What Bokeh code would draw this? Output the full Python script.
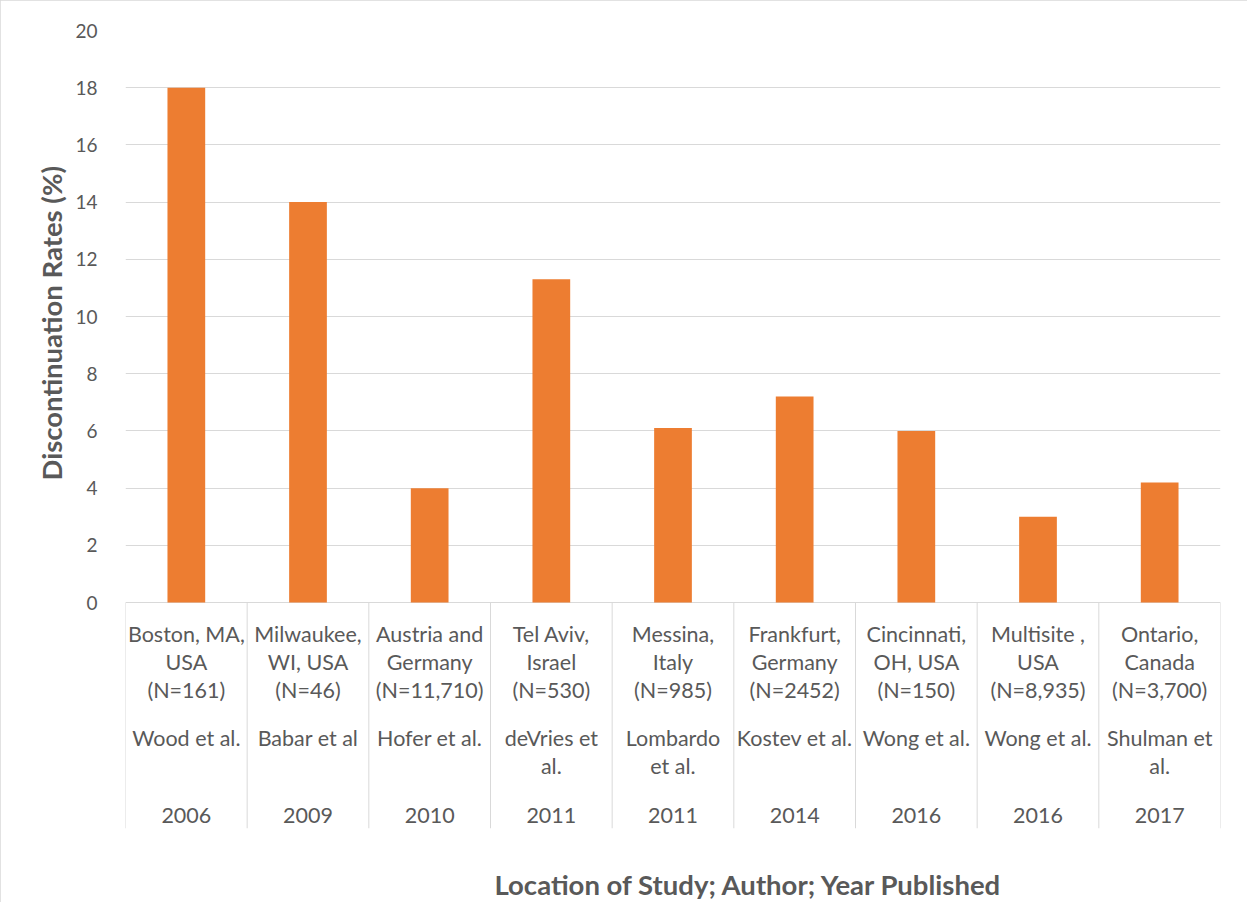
from bokeh.plotting import figure
from bokeh.models import FactorRange, Range1d, FixedTicker, Title, ColumnDataSource
from bokeh.core.properties import value
from bokeh.embed import file_html
from bokeh.resources import INLINE

# ---- data ----
locations = [
    "Boston, MA,\nUSA\n(N=161)",
    "Milwaukee,\nWI, USA\n(N=46)",
    "Austria and\nGermany\n(N=11,710)",
    "Tel Aviv,\nIsrael\n(N=530)",
    "Messina,\nItaly\n(N=985)",
    "Frankfurt,\nGermany\n(N=2452)",
    "Cincinnati,\nOH, USA\n(N=150)",
    "Multisite ,\nUSA\n(N=8,935)",
    "Ontario,\nCanada\n(N=3,700)",
]
authors = [
    "Wood et al.",
    "Babar et al",
    "Hofer et al.",
    "deVries et\nal.",
    "Lombardo\net al.",
    "Kostev et al.",
    "Wong et al.",
    "Wong et al.",
    "Shulman et\nal.",
]
years = ["2006", "2009", "2010", "2011", "2011", "2014", "2016", "2016", "2017"]
rates = [18, 14, 4, 11.3, 6.1, 7.2, 6.0, 3.0, 4.2]
y_ticks = [0, 2, 4, 6, 8, 10, 12, 14, 16, 18, 20]

y_title = "Discontinuation Rates (%)"
x_title = "Location of Study; Author; Year Published"

# ---- style ----
FONT = "Lato"
TXT = "#595959"
GRID = "#d9d9d9"
BAR = "#ED7D31"
TICK_SIZE = "19px"
CAT_SIZE = "21.5px"
TITLE_SIZE = "27.5px"

y_bottom = -7.9

p = figure(
    width=1247, height=902,
    x_range=FactorRange(*locations),
    y_range=Range1d(y_bottom, 20),
    x_axis_location=None,
    output_backend="svg", toolbar_location=None,
    min_border_left=125, min_border_right=27, min_border_top=30, min_border_bottom=74,
)
p.outline_line_color = None
p.background_fill_color = "white"
p.border_fill_color = "white"
p.styles = {"outline": "1px solid #d9d9d9", "outline-offset": "-1px"}

p.xgrid.visible = False
p.ygrid.ticker = FixedTicker(ticks=y_ticks)
p.ygrid.grid_line_color = GRID
p.ygrid.grid_line_width = 1

ax = p.yaxis[0]
ax.ticker = FixedTicker(ticks=y_ticks)
ax.axis_line_color = None
ax.major_tick_line_color = None
ax.minor_tick_line_color = None
ax.major_label_text_font = FONT
ax.major_label_text_font_size = TICK_SIZE
ax.major_label_text_color = TXT
ax.major_label_standoff = 22

src = ColumnDataSource(dict(loc=locations, auth=authors, year=years, rate=rates,
                            zero=[0] * len(rates)))

p.vbar(x="loc", top="rate", bottom=0, width=0.31, source=src,
       fill_color=BAR, line_color=None)

# category separators
bounds = list(range(len(locations) + 1))
p.segment(x0=bounds, x1=bounds, y0=[0] * len(bounds), y1=[y_bottom] * len(bounds),
          line_color=GRID, line_width=1)

common = dict(text_font=value(FONT), text_font_size=CAT_SIZE, text_color=TXT,
              text_align="center", text_baseline="top", text_line_height=1.09,
              source=src)
p.text(x="loc", y="zero", text="loc", y_offset=18, **common)
p.text(x="loc", y="zero", text="auth", y_offset=122, **common)
p.text(x="loc", y="zero", text="year", y_offset=205, **common)

# axis titles
p.add_layout(Title(text=y_title, align="left", offset=348, standoff=10,
                   text_font=FONT, text_font_size=TITLE_SIZE, text_font_style="bold",
                   text_color=TXT), "left")
# spacer panel between the category labels and the x title
p.add_layout(Title(text=" ", standoff=33, text_font_size="1px",
                   text_color="white"), "below")
p.add_layout(Title(text=x_title, align="left", offset=369, standoff=2,
                   text_font=FONT, text_font_size=TITLE_SIZE, text_font_style="bold",
                   text_color=TXT), "below")

open("out.html", "w").write(file_html(p, INLINE))
